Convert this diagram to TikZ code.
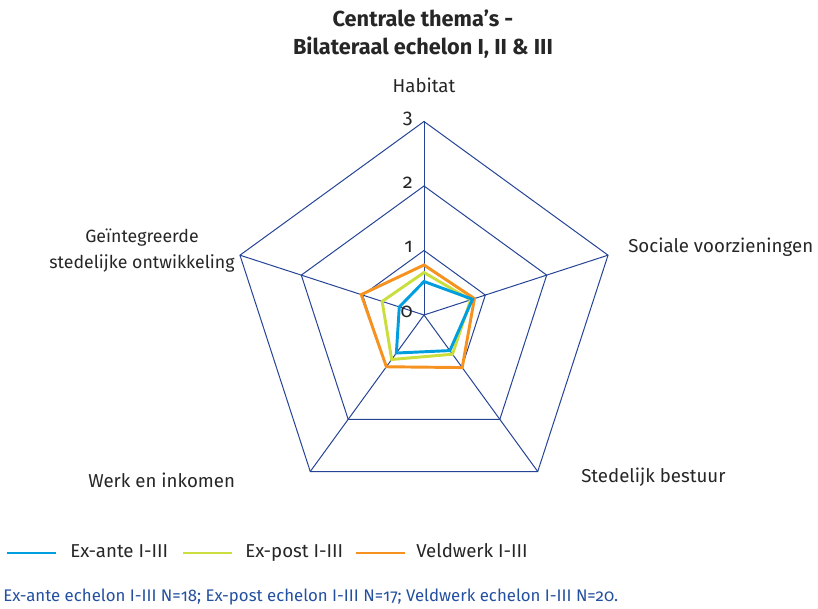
\documentclass[tikz,border=0pt]{standalone}
\usepackage{fontspec}
\setmainfont{Fira Sans}[Numbers=OldStyle]
\usetikzlibrary{calc}

\definecolor{webblue}{RGB}{38,68,150}
\definecolor{exante}{RGB}{0,158,222}
\definecolor{expost}{RGB}{202,222,62}
\definecolor{veldwerk}{RGB}{246,146,32}
\definecolor{notetext}{RGB}{36,80,160}

\begin{document}
\begin{tikzpicture}[x=0.75pt,y=0.75pt,
    web/.style={webblue, line width=0.75pt, line join=miter},
    serie/.style={line width=2.2pt, line join=miter},
    lbl/.style={font=\fontsize{14}{16}\selectfont, text=black!85, inner sep=0pt},
    tick/.style={font=\fontsize{15}{17}\selectfont, text=black!85, inner sep=0pt, anchor=east}]
  \useasboundingbox (0,0) rectangle (818,609);
  \coordinate (C) at (424,294);

  % title
  \node[font=\bfseries\fontsize{16.3}{20.5}\selectfont, align=center, text=black!85] (title) at (423,575)
       {Centrale thema's -\\Bilateraal echelon I, II \& III};

  % web
  \begin{scope}[shift={(C)}]
    \foreach \r in {64.5,129,193.5}
      \draw[web] (90:\r) -- (18:\r) -- (-54:\r) -- (-126:\r) -- (162:\r) -- cycle;
    \foreach \a in {90,18,-54,-126,162}
      \draw[web] (0,0) -- (\a:193.5);

    % series
    \draw[serie, veldwerk] (90:50) -- (18:53) -- (-54:65) -- (-126:64) -- (162:66) -- cycle;
    \draw[serie, expost] (90:42.5) -- (18:49) -- (-54:48.5) -- (-126:55) -- (162:44) -- cycle;
    \draw[serie, exante] (90:33.5) -- (18:51) -- (-54:44) -- (-126:47) -- (162:26) -- cycle;
  \end{scope}

  % scale
  \node[tick] (t0) at (413,297) {0};
  \node[tick] (t1) at (413,362) {1};
  \node[tick] (t2) at (413,426) {2};
  \node[tick] (t3) at (413,490) {3};

  % axis labels
  \node[lbl, anchor=base] (habitat) at (424,516) {Habitat};
  \node[lbl, anchor=base west] (sociaal) at (628,356) {Sociale voorzieningen};
  \node[lbl, anchor=base west] (bestuur) at (581,126) {Stedelijk bestuur};
  \node[lbl, anchor=base west] (werk) at (88,121) {Werk en inkomen};
  \node[lbl, align=center, font=\fontsize{13.3}{19.5}\selectfont] (ontwikkeling) at (142,358)
       {Geïntegreerde\\stedelijke ontwikkeling};

  % legend
  \coordinate (l1a) at (7,56);   \coordinate (l1b) at (56,56);
  \coordinate (l2a) at (183,56); \coordinate (l2b) at (232,56);
  \coordinate (l3a) at (356,56); \coordinate (l3b) at (405,56);
  \draw[exante, line width=1.6pt] (l1a) -- (l1b);
  \draw[expost, line width=1.6pt] (l2a) -- (l2b);
  \draw[veldwerk, line width=1.6pt] (l3a) -- (l3b);
  \node[lbl, anchor=base west] (leg1) at (70,51) {Ex-ante I-III};
  \node[lbl, anchor=base west] (leg2) at (245,51) {Ex-post I-III};
  \node[lbl, anchor=base west] (leg3) at (416,51) {Veldwerk I-III};

  % note
  \node[anchor=base west, inner sep=0pt, text=notetext, font=\fontsize{12.6}{14}\selectfont] (note) at (3,7)
       {Ex-ante echelon I-III N=18; Ex-post echelon I-III N=17; Veldwerk echelon I-III N=20.};
\end{tikzpicture}
\end{document}
